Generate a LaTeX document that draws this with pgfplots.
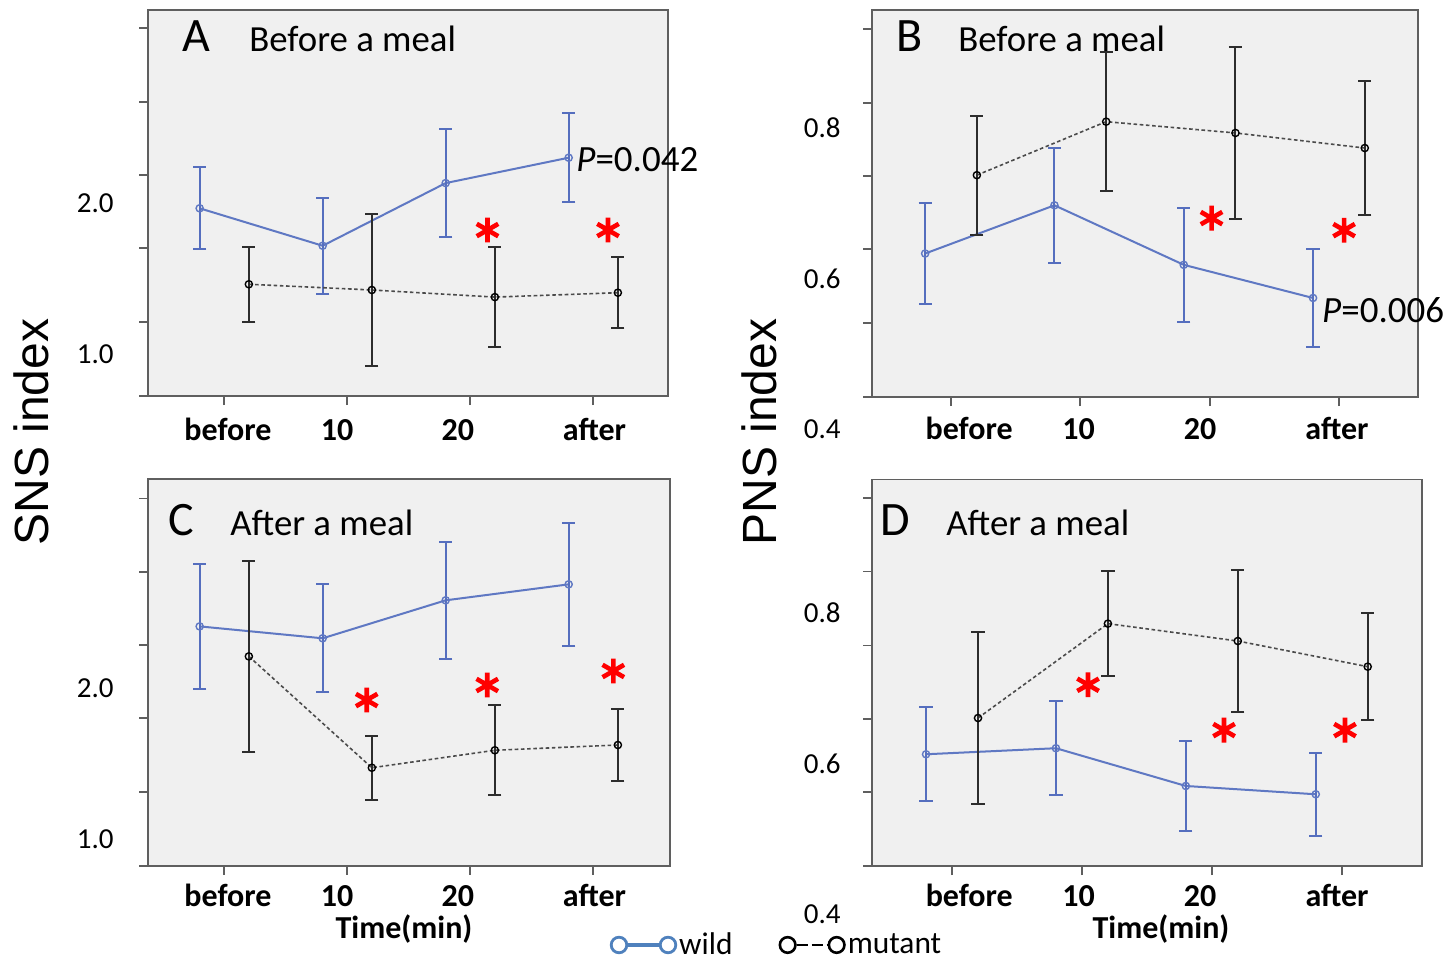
\documentclass[border=0pt]{standalone}
\usepackage{pgfplots}
\pgfplotsset{compat=1.18}
\usepackage{fontspec}
\setmainfont{Carlito}
\newfontfamily\arialfont{Liberation Sans}
\definecolor{wildblue}{RGB}{95,120,195}
\definecolor{wildbar}{RGB}{85,110,190}
\definecolor{legblue}{RGB}{79,129,189}
\definecolor{mutline}{RGB}{75,75,75}
\definecolor{mutbar}{RGB}{45,45,45}
\definecolor{bgcol}{RGB}{240,240,240}
\definecolor{framecol}{RGB}{95,95,95}

\pgfplotsset{
  panel/.style={
    anchor=south west,
    axis background/.style={fill=bgcol},
    axis line style={draw=framecol, line width=0.9pt},
    tick align=outside, tick pos=left,
    major tick length=0pt, minor tick length=4.5pt,
    minor tick style={draw=framecol, line width=0.9pt},
    clip=false,
    xticklabel style={font=\fontsize{16}{19}\selectfont\bfseries, anchor=base, inner sep=0pt},
    yticklabel style={font=\fontsize{14.5}{17}\selectfont, anchor=east, inner sep=0pt},
  },
  wild/.style={wildblue, line width=1pt, mark=o, mark size=1.8pt,
    mark options={solid, line width=0.7pt},
    error bars/y dir=both, error bars/y explicit,
    error bars/error bar style={wildbar, line width=1pt},
    error bars/error mark options={rotate=90, mark size=3.3pt, line width=1pt, wildbar}},
  mutant/.style={mutline, line width=0.8pt, dash pattern=on 1.8pt off 1.3pt, mark=o, mark size=1.8pt,
    mark options={solid, black, line width=0.7pt},
    error bars/y dir=both, error bars/y explicit,
    error bars/error bar style={mutbar, solid, line width=1pt},
    error bars/error mark options={rotate=90, mark size=3.3pt, line width=1pt, mutbar, solid}},
  star/.style={only marks, mark=asterisk, mark size=6.2pt, red, mark options={line width=2.3pt, solid}},
}

\begin{document}
\begin{tikzpicture}
\path[use as bounding box] (0,0) rectangle (722.5pt,480pt);

% ---------------- Panel A ----------------
\begin{axis}[panel, at={(74pt,282pt)}, x=61.5pt, y=75.5pt,
  xmin=-0.62, xmax=3.61, ymin=0.722, ymax=3.278,
  xtick={0.03,0.918,1.90,3.01}, xticklabels={before,10,20,after},
  minor xtick={0,1,2,3},
  ytick={1,2}, yticklabels={1.0,2.0},
  minor ytick={0.722,1.212,1.702,2.185,2.669,3.159},
  xticklabel style={yshift=-22pt}, yticklabel style={xshift=-17pt}]
\addplot[wild] table[x=x,y=y,y error=e]{
x y e
-0.2 1.965 0.272
0.8 1.717 0.319
1.8 2.132 0.360
2.8 2.300 0.295
};
\addplot[mutant] table[x=x,y=y,y error=e]{
x y e
0.2 1.462 0.248
1.2 1.424 0.505
2.2 1.377 0.333
3.2 1.406 0.236
};
\addplot[star] coordinates {(2.14,1.821) (3.12,1.821)};
\end{axis}

% ---------------- Panel B ----------------
\begin{axis}[panel, at={(436pt,281.5pt)}, x=64.65pt, y=376.75pt,
  xmin=-0.611, xmax=3.612, ymin=0.4426, ymax=0.956,
  xtick={0.14,0.986,1.926,2.985}, xticklabels={before,10,20,after},
  minor xtick={0,1,2,3},
  ytick={0.6,0.8}, yticklabels={0.6,0.8},
  minor ytick={0.443,0.541,0.639,0.736,0.833,0.931},
  xticklabel style={yshift=-21pt}, yticklabel style={xshift=-15.5pt}]
\addplot[wild] table[x=x,y=y,y error=e]{
x y e
-0.2 0.633 0.067
0.8 0.697 0.076
1.8 0.618 0.076
2.8 0.574 0.065
};
\addplot[mutant] table[x=x,y=y,y error=e]{
x y e
0.2 0.737 0.079
1.2 0.808 0.092
2.2 0.793 0.114
3.2 0.773 0.089
};
\addplot[star] coordinates {(2.015,0.680) (3.04,0.664)};
\node[anchor=east, inner sep=0pt, xshift=-15.5pt, font=\fontsize{14.5}{17}\selectfont] at (axis cs:-0.611,0.4) {0.4};
\end{axis}

% ---------------- Panel C ----------------
\begin{axis}[panel, at={(74pt,47.15pt)}, x=61.5pt, y=75.35pt,
  xmin=-0.62, xmax=3.626, ymin=0.823, ymax=3.389,
  xtick={0.03,0.918,1.90,3.01}, xticklabels={before,10,20,after},
  minor xtick={0,1,2,3},
  ytick={1,2}, yticklabels={1.0,2.0},
  minor ytick={0.823,1.314,1.801,2.287,2.774,3.259},
  xticklabel style={yshift=-20.5pt}, yticklabel style={xshift=-17pt},
  legend style={at={(axis description cs:0.872,-0.205)}, anchor=west, draw=none, fill=none,
    legend columns=2, font=\fontsize{15.7}{18}\selectfont,
    /tikz/every even column/.append style={column sep=22pt},
    nodes={inner xsep=1pt, inner ysep=0pt}},
  legend cell align=left]
\addlegendimage{legend image code/.code={
  \draw[legblue, line width=1.8pt] (0pt,0pt) -- (24.5pt,0pt);
  \draw[legblue, line width=1.4pt, fill=white] (0pt,0pt) circle (3.9pt) (24.5pt,0pt) circle (3.9pt);
}}
\addlegendentry{wild}
\addlegendimage{legend image code/.code={
  \draw[black, line width=1.3pt, dash pattern=on 5.5pt off 2pt] (4.5pt,0pt) -- (20pt,0pt);
  \draw[black, line width=1.3pt, fill=white] (0pt,0pt) circle (3.9pt) (24.5pt,0pt) circle (3.9pt);
}}
\addlegendentry{mutant}
\addplot[wild, forget plot] table[x=x,y=y,y error=e]{
x y e
-0.2 2.411 0.413
0.8 2.332 0.358
1.8 2.584 0.390
2.8 2.690 0.409
};
\addplot[mutant, forget plot] table[x=x,y=y,y error=e]{
x y e
0.2 2.212 0.636
1.2 1.473 0.214
2.2 1.589 0.298
3.2 1.624 0.236
};
\addplot[star, forget plot] coordinates {(1.158,1.922) (2.138,2.022) (3.163,2.115)};
\end{axis}

% ---------------- Panel D ----------------
\begin{axis}[panel, at={(436pt,47pt)}, x=64.95pt, y=377.5pt,
  xmin=-0.616, xmax=3.618, ymin=0.464, ymax=0.976,
  xtick={0.133,0.975,1.909,2.964}, xticklabels={before,10,20,after},
  minor xtick={0,1,2,3},
  ytick={0.6,0.8}, yticklabels={0.6,0.8},
  minor ytick={0.464,0.562,0.659,0.756,0.854,0.951},
  xticklabel style={yshift=-20.3pt}, yticklabel style={xshift=-15.5pt}]
\addplot[wild] table[x=x,y=y,y error=e]{
x y e
-0.2 0.612 0.062
0.8 0.620 0.062
1.8 0.570 0.059
2.8 0.559 0.055
};
\addplot[mutant] table[x=x,y=y,y error=e]{
x y e
0.2 0.660 0.114
1.2 0.785 0.070
2.2 0.762 0.094
3.2 0.728 0.071
};
\addplot[star] coordinates {(1.047,0.704) (2.094,0.644) (3.025,0.644)};
\node[anchor=east, inner sep=0pt, xshift=-15.5pt, font=\fontsize{14.5}{17}\selectfont] at (axis cs:-0.616,0.4) {0.4};
\end{axis}

% ---------------- Texts ----------------
\node[anchor=base west, inner sep=0pt, font=\fontsize{24}{28}\selectfont] at (91pt,454pt) {A};
\node[anchor=base west, inner sep=0pt, font=\fontsize{18.4}{22}\selectfont] at (124.5pt,454pt) {Before a meal};
\node[anchor=base west, inner sep=0pt, font=\fontsize{24}{28}\selectfont] at (447.8pt,454pt) {B};
\node[anchor=base west, inner sep=0pt, font=\fontsize{18.4}{22}\selectfont] at (479pt,454pt) {Before a meal};
\node[anchor=base west, inner sep=0pt, font=\fontsize{24}{28}\selectfont] at (84pt,212.5pt) {C};
\node[anchor=base west, inner sep=0pt, font=\fontsize{18.4}{22}\selectfont] at (115pt,212.5pt) {After a meal};
\node[anchor=base west, inner sep=0pt, font=\fontsize{24}{28}\selectfont] at (440pt,212.5pt) {D};
\node[anchor=base west, inner sep=0pt, font=\fontsize{18.4}{22}\selectfont] at (473pt,212.5pt) {After a meal};
\node[anchor=base west, inner sep=0pt, font=\fontsize{18.5}{22}\selectfont] at (288pt,394pt) {\itshape P\upshape=0.042};
\node[anchor=base west, inner sep=0pt, font=\fontsize{18.5}{22}\selectfont] at (660.9pt,318.6pt) {\itshape P\upshape=0.006};
\node[anchor=base, inner sep=0pt, font=\fontsize{16}{19}\selectfont\bfseries] at (202pt,11pt) {Time(min)};
\node[anchor=base, inner sep=0pt, font=\fontsize{16}{19}\selectfont\bfseries] at (580.5pt,11pt) {Time(min)};
\node[anchor=base, rotate=90, inner sep=0pt, font=\arialfont\fontsize{24}{28}\selectfont] at (24pt,264pt) {SNS index};
\node[anchor=base, rotate=90, inner sep=0pt, font=\arialfont\fontsize{24}{28}\selectfont] at (388pt,264pt) {PNS index};
\end{tikzpicture}
\end{document}
